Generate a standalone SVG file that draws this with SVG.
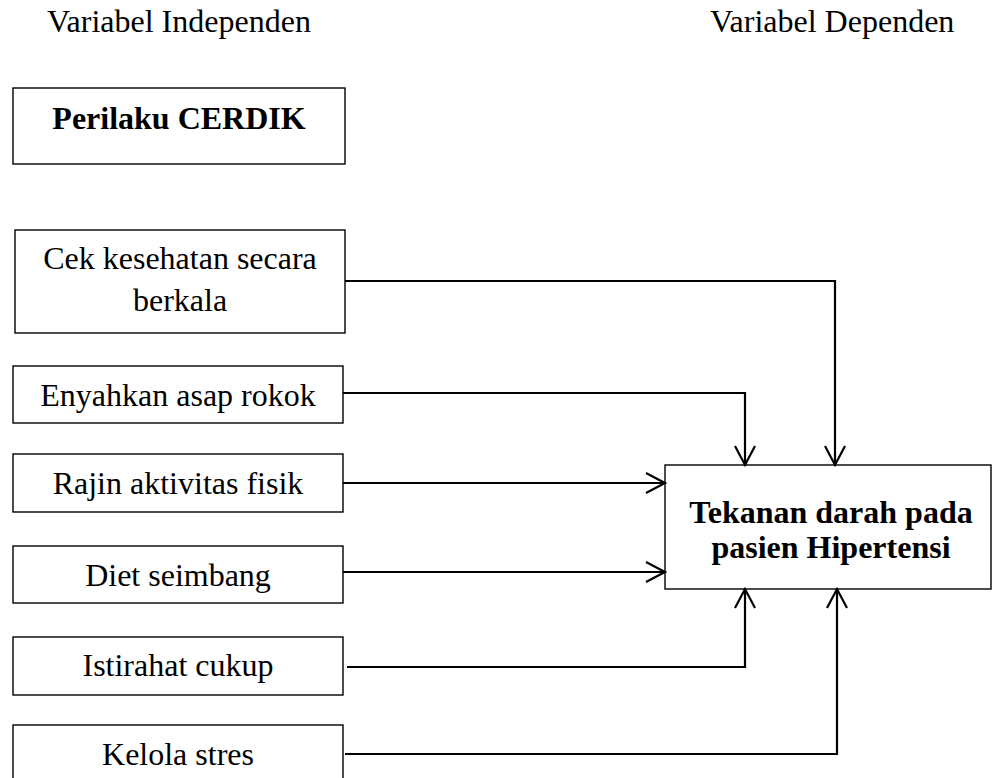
<svg xmlns="http://www.w3.org/2000/svg" width="992" height="778" viewBox="0 0 992 778">
<style>
text{font-family:"Liberation Serif","Times New Roman",serif;font-size:32px;fill:#000;text-anchor:middle}
.b{font-weight:bold}
.h{text-anchor:start}
rect{fill:#fff;stroke:#000;stroke-width:1.4}
.c path{fill:none;stroke:#000;stroke-width:2.2}
</style>
<defs>
<marker id="ah" markerUnits="userSpaceOnUse" markerWidth="30" markerHeight="30" refX="0" refY="0" viewBox="-25 -15 30 30" orient="auto">
<path d="M-19,-10 L0,0 L-19,10" fill="none" stroke="#000" stroke-width="2.2"/>
</marker>
</defs>
<rect x="0" y="0" width="992" height="778" style="stroke:none"/>
<g id="head-indep"><text class="h" x="47" y="32">Variabel Independen</text></g>
<g id="head-dep"><text class="h" x="710" y="32">Variabel Dependen</text></g>
<g id="perilaku"><rect x="13" y="88" width="332" height="76"/><text class="b" x="179" y="129">Perilaku CERDIK</text></g>
<g id="cek"><rect x="15" y="230" width="330" height="103"/><text x="180" y="269">Cek kesehatan secara</text><text x="180" y="311">berkala</text></g>
<g id="enyahkan"><rect x="13" y="366" width="330" height="57"/><text x="178" y="406">Enyahkan asap rokok</text></g>
<g id="rajin"><rect x="13" y="454" width="330" height="58"/><text x="178" y="494">Rajin aktivitas fisik</text></g>
<g id="diet"><rect x="13" y="546" width="330" height="57"/><text x="178" y="586">Diet seimbang</text></g>
<g id="istirahat"><rect x="13" y="637" width="330" height="58"/><text x="178" y="676">Istirahat cukup</text></g>
<g id="kelola"><rect x="13" y="725" width="330" height="70"/><text x="178" y="765">Kelola stres</text></g>
<g id="tekanan"><rect x="665" y="465" width="326" height="124"/><text class="b" x="831" y="523">Tekanan darah pada</text><text class="b" x="831" y="558">pasien Hipertensi</text></g>
<g class="c" id="connectors">
<path d="M345,281 H835 V465" marker-end="url(#ah)"/>
<path d="M343,393 H745 V465" marker-end="url(#ah)"/>
<path d="M343,483 H665" marker-end="url(#ah)"/>
<path d="M343,572 H665" marker-end="url(#ah)"/>
<path d="M347,667 H745 V589" marker-end="url(#ah)"/>
<path d="M345,754 H837 V589" marker-end="url(#ah)"/>
</g>
</svg>
